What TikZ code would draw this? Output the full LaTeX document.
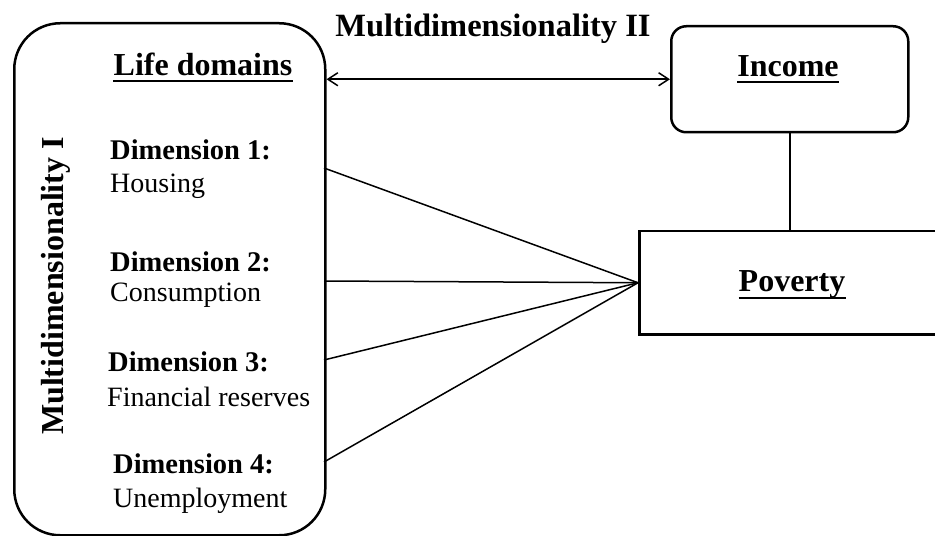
\documentclass[tikz,border=0pt]{standalone}
\usepackage{fontspec}
\setmainfont{Liberation Serif}
\usetikzlibrary{arrows.meta}

\tikzset{
  frame/.style={draw, line width=2.5bp, inner sep=0pt},
  link/.style={draw, line width=1.5bp},
  head/.style={font=\bfseries\fontsize{32bp}{36bp}\selectfont, inner sep=0pt},
  dimtitle/.style={font=\bfseries\fontsize{28.5bp}{31bp}\selectfont, inner sep=0pt, anchor=base west},
  dimtext/.style={font=\fontsize{28bp}{31bp}\selectfont, inner sep=0pt, anchor=base west},
  ul/.style={line width=1.8bp}
}

\begin{document}
\begin{tikzpicture}[x=1bp, y=-1bp]
\useasboundingbox (0,0) rectangle (935,536);

% boxes
\node[frame, rounded corners=46bp, minimum width=311bp, minimum height=512bp, anchor=north west] (life) at (13,22) {};
\node[frame, rounded corners=15bp, minimum width=237bp, minimum height=106bp, anchor=north west] (income) at (670,25) {};
\node[frame, minimum width=340bp, minimum height=103bp, anchor=north west] (poverty) at (638,230) {};

% headings with underlines
\node[head, anchor=base] (lifett) at (203,76) {Life domains};
\draw[ul] ([yshift=-5bp]lifett.base west) -- ([yshift=-5bp]lifett.base east);
\node[head, anchor=base] (incomett) at (788,77) {Income};
\draw[ul] ([yshift=-5bp]incomett.base west) -- ([yshift=-5bp]incomett.base east);
\node[head, anchor=base] (povertytt) at (792,292) {Poverty};
\draw[ul] ([yshift=-6bp]povertytt.base west) -- ([yshift=-6bp]povertytt.base east);

\node[font=\bfseries\fontsize{32.5bp}{35bp}\selectfont, inner sep=0pt, anchor=base] (multi2) at (493,37) {Multidimensionality II};
\node[head, rotate=90, anchor=base] (multi1) at (63,286) {Multidimensionality I};

% dimensions
\node[dimtitle] (d1t) at (110,160) {Dimension 1:};
\node[dimtext]  (d1s) at (110,193) {Housing};
\node[dimtitle] (d2t) at (110,272) {Dimension 2:};
\node[dimtext]  (d2s) at (110,302) {Consumption};
\node[dimtitle] (d3t) at (108,372) {Dimension 3:};
\node[dimtext]  (d3s) at (107,406) {Financial reserves};
\node[dimtitle] (d4t) at (113,473) {Dimension 4:};
\node[dimtext]  (d4s) at (113,507) {Unemployment};

% connectors
\coordinate (c1) at (324,168);
\coordinate (c2) at (324,281);
\coordinate (c3) at (324,360);
\coordinate (c4) at (324,462);
\foreach \c in {c1,c2,c3,c4} \draw[link] (\c) -- (poverty.west);
\draw[link] (income.south) -- (income.south |- poverty.north);
\draw[link, {Straight Barb[length=10bp,width=13bp]}-{Straight Barb[length=10bp,width=13bp]}]
  (income.west -| life.east) -- (income.west);
\end{tikzpicture}
\end{document}
